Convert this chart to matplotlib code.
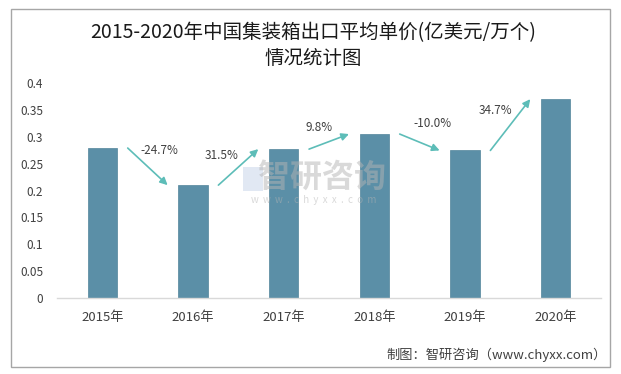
import matplotlib
matplotlib.use("Agg")
import matplotlib.pyplot as plt
from matplotlib.patches import Rectangle

plt.rcParams['font.family'] = ['Noto Sans CJK SC', 'DejaVu Sans']

years = ["2015年", "2016年", "2017年", "2018年", "2019年", "2020年"]
values = [0.279, 0.210, 0.277, 0.305, 0.2745, 0.370]
growth_labels = ["-24.7%", "31.5%", "9.8%", "-10.0%", "34.7%"]
yticks = [0, 0.05, 0.1, 0.15, 0.2, 0.25, 0.3, 0.35, 0.4]
ytick_labels = ["0", "0.05", "0.1", "0.15", "0.2", "0.25", "0.3", "0.35", "0.4"]

W, H = 621, 374
fig = plt.figure(figsize=(W / 100, H / 100), dpi=100)

# outer border
fig.patches.append(Rectangle((11 / W, 1 - 367 / H), (610 - 11) / W, (367 - 9) / H,
                             transform=fig.transFigure, fill=False,
                             edgecolor='#A6A6A6', linewidth=1.0))

ax = fig.add_axes([57 / W, 1 - 298 / H, (601 - 57) / W, (298 - 83) / H])
x = list(range(len(years)))
ax.bar(x, values, width=0.32, color='#5B8FA7', edgecolor='#52849B', linewidth=0.5,
       zorder=2)
ax.set_xlim(-0.5, len(years) - 0.5)
ax.set_ylim(0, 0.4)
ax.set_yticks(yticks)
ax.set_yticklabels(ytick_labels)
ax.set_xticks(x)
ax.set_xticklabels(years)
ax.tick_params(axis='y', length=0, labelsize=8.5, labelcolor='#404040', pad=10)
ax.tick_params(axis='x', length=0, labelsize=9.5, labelcolor='#404040', pad=9)
for s in ['top', 'right', 'left']:
    ax.spines[s].set_visible(False)
ax.spines['bottom'].set_color('#D9D9D9')
ax.spines['bottom'].set_linewidth(1.0)

# growth arrows
label_offsets = [(0.13, 0.030), (-0.185, 0.021), (-0.11, 0.027), (0.14, 0.034), (-0.16, 0.026)]
for i, lab in enumerate(growth_labels):
    x0, y0 = i + 0.28, values[i]
    x1, y1 = i + 0.72, values[i + 1]
    ax.annotate("", xy=(x1, y1), xytext=(x0, y0),
                arrowprops=dict(arrowstyle='-|>', color='#5DBDB8', lw=1.2,
                                mutation_scale=11, shrinkA=0, shrinkB=0), zorder=3)
    mx, my = (x0 + x1) / 2, (y0 + y1) / 2
    dx, dy = label_offsets[i]
    ax.text(mx + dx, my + dy, lab, ha='center', va='center', fontsize=8.5,
            color='#404040', zorder=4)

# watermark
fig.text(322 / W, 1 - 178 / H, "智研咨询", fontsize=23, color='#B4B4B4', alpha=0.5,
         ha='center', va='center', fontweight='bold', zorder=10)
fig.text(314 / W, 1 - 200 / H, "w  w  w  .  c  h  y  x  x  .  c  o  m", fontsize=7,
         color='#B4B4B4', alpha=0.5, ha='center', va='center', zorder=10)
fig.patches.append(Rectangle((243 / W, 1 - 191 / H), 20 / W, 24 / H, transform=fig.transFigure,
                             facecolor='#C5D3E8', edgecolor='none', alpha=0.5, zorder=10))

# title
fig.text(313 / W, 1 - 33 / H, "2015-2020年中国集装箱出口平均单价(亿美元/万个)",
         fontsize=14, color='#1a1a1a', ha='center', va='center')
fig.text(313 / W, 1 - 58 / H, "情况统计图",
         fontsize=14, color='#1a1a1a', ha='center', va='center')

# footer
fig.text(607 / W, 1 - 355 / H, "制图：智研咨询（www.chyxx.com）", fontsize=9.5,
         color='#404040', ha='right', va='center')

fig.savefig("out.png", dpi=100)
